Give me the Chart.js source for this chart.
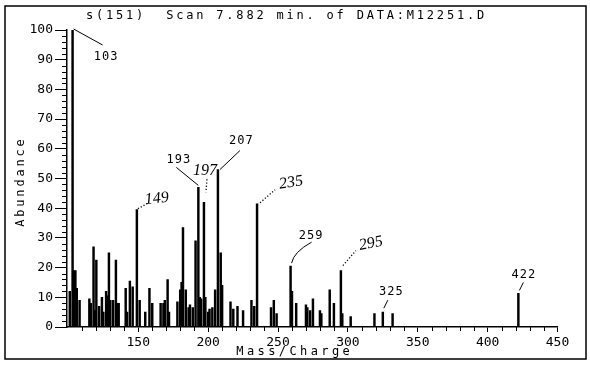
<!DOCTYPE html>
<html>
<head>
<meta charset="utf-8">
<script src="https://cdn.jsdelivr.net/npm/chart.js@4.4.1/dist/chart.umd.min.js"></script>
<style>
  html, body { margin: 0; padding: 0; background: #fff; }
</style>
</head>
<body>
<canvas id="spectrum" width="590" height="366"></canvas>
<script>
// Scan 7.882 min: m/z values and relative abundance (%)
const masses = [
  101, 103, 104, 105, 106, 108, 115, 116, 118, 119, 120, 122, 124, 125, 127, 128, 129, 130, 132,
  134, 135, 136, 141, 142, 144, 146, 149, 151, 155, 158, 160, 166, 168, 169, 171, 172, 178, 180,
  181, 182, 184, 186, 187, 189, 191, 193, 194, 195, 197, 198, 200, 201, 203, 205, 207, 209, 210,
  216, 218, 221, 225, 231, 233, 235, 245, 247, 249, 259, 260, 263, 270, 271, 273, 275, 280, 281,
  287, 290, 295, 296, 302, 319, 325, 332, 422
];
const abundance = [
  12, 100, 19, 19, 13, 9, 9.5, 8, 27, 5.5, 22.5, 7, 10, 5, 12, 10.5, 25, 9, 9,
  22.5, 8, 8, 13, 5, 15.5, 13.5, 39.5, 9, 5, 13, 8, 8, 8, 9, 16, 5, 8.5, 12.5,
  15, 33.5, 12.5, 6.5, 7.5, 6.5, 29, 47, 10, 9.5, 42, 10, 5, 6, 6.5, 12.5, 53, 25, 14,
  8.5, 6, 7, 5.5, 9, 7, 41.5, 6.5, 9, 4.5, 20.5, 12, 8, 7.5, 6.5, 5.5, 9.5, 5.5, 4.5,
  12.5, 8, 19, 4.5, 3.5, 4.5, 5, 4.5, 11.3
];

const xTickValues = [150, 200, 250, 300, 350, 400, 450];
const yTickValues = [0, 10, 20, 30, 40, 50, 60, 70, 80, 90, 100];

const titleText = 's(151)  Scan 7.882 min. of DATA:M12251.D';
const xTitle = 'Mass/Charge';
const yTitle = 'Abundance';

// peaks that carry a mass label (printed or pencilled in)
const printedLabels = ['103', '193', '207', '259', '325', '422'];
const handLabels = ['149', '197', '235', '295'];

// where each label sits relative to the top of its peak, and how the leader is drawn
const labelLayout = {
  '103': { at: [33, 27], lead: 'line', pts: [[1, -1], [30, 15]] },
  '193': { at: [-20, -28], lead: 'line', pts: [[-22, -20], [0, -2]] },
  '207': { at: [23, -29], lead: 'line', pts: [[2, 0], [22, -19]] },
  '259': { at: [20, -30], lead: 'curve', pts: [[1, -3], [3, -14], [21, -24]] },
  '325': { at: [8, -20], lead: 'line', pts: [[1, -4], [5, -12]] },
  '422': { at: [5, -19], lead: 'line', pts: [[1, -3], [5, -11]] },
  '149': { at: [20, -11], lead: 'dots', pts: [[1, -1], [12, -7]], rot: -0.1 },
  '197': { at: [1, -31], lead: 'dots', pts: [[3, -23], [2, -10]], rot: 0 },
  '235': { at: [34, -21], lead: 'dots', pts: [[3, -1], [18, -14]], rot: -0.15 },
  '295': { at: [30, -27], lead: 'dots', pts: [[2, -5], [15, -20]], rot: -0.2 }
};

const plotterFont = '"DejaVu Sans Mono", "Liberation Mono", monospace';

function drawSpaced(ctx, text, x, y, spacing, align) {
  ctx.save();
  ctx.letterSpacing = spacing + 'px';
  let w = ctx.measureText(text).width;
  let sx = align === 'center' ? x - (w - spacing) / 2 : x;
  ctx.textAlign = 'left';
  ctx.fillText(text, sx, y);
  ctx.restore();
}

// frame, title, axis titles, minor ticks and peak annotations
const decorPlugin = {
  id: 'decor',
  beforeDraw(chart) {
    const ctx = chart.ctx;
    ctx.save();
    ctx.fillStyle = '#fff';
    ctx.fillRect(0, 0, chart.width, chart.height);
    ctx.strokeStyle = '#000';
    ctx.lineWidth = 1.5;
    ctx.strokeRect(5, 6, 581, 353);
    ctx.restore();
  },
  afterDraw(chart) {
    const ctx = chart.ctx;
    const xs = chart.scales.x;
    const ys = chart.scales.y;
    const area = chart.chartArea;

    ctx.save();
    ctx.fillStyle = '#000';
    ctx.strokeStyle = '#000';
    ctx.textBaseline = 'middle';

    // title
    ctx.font = '12px ' + plotterFont;
    drawSpaced(ctx, titleText, 86, 16, 2.8, 'left');

    // axis titles
    drawSpaced(ctx, xTitle, 293, 352, 3.4, 'center');
    ctx.save();
    ctx.translate(21, 183);
    ctx.rotate(-Math.PI / 2);
    drawSpaced(ctx, yTitle, 0, 0, 2.8, 'center');
    ctx.restore();

    // minor ticks
    ctx.lineWidth = 1;
    ctx.beginPath();
    for (let v = 2; v < 100; v += 2) {
      if (v % 10 === 0) continue;
      const py = Math.round(ys.getPixelForValue(v)) + 0.5;
      ctx.moveTo(area.left - 5, py);
      ctx.lineTo(area.left, py);
    }
    for (let v = 110; v < 450; v += 10) {
      if (v % 50 === 0) continue;
      const px = Math.round(xs.getPixelForValue(v)) + 0.5;
      ctx.moveTo(px, area.bottom);
      ctx.lineTo(px, area.bottom + 4);
    }
    ctx.stroke();

    // peak labels
    const allLabels = printedLabels.concat(handLabels);
    allLabels.forEach(txt => {
      const m = Number(txt);
      const i = masses.indexOf(m);
      if (i < 0) return;
      const px = xs.getPixelForValue(m);
      const py = ys.getPixelForValue(abundance[i]);
      const lay = labelLayout[txt];
      const p = lay.pts.map(q => [px + q[0], py + q[1]]);

      ctx.lineWidth = 1;
      if (lay.lead === 'line') {
        ctx.beginPath();
        ctx.moveTo(p[0][0], p[0][1]);
        ctx.lineTo(p[1][0], p[1][1]);
        ctx.stroke();
      } else if (lay.lead === 'curve') {
        ctx.beginPath();
        ctx.moveTo(p[0][0], p[0][1]);
        ctx.quadraticCurveTo(p[1][0], p[1][1], p[2][0], p[2][1]);
        ctx.stroke();
      } else {
        ctx.setLineDash([1.2, 2]);
        ctx.lineWidth = 1.3;
        ctx.beginPath();
        ctx.moveTo(p[0][0], p[0][1]);
        ctx.lineTo(p[1][0], p[1][1]);
        ctx.stroke();
        ctx.setLineDash([]);
      }

      const tx = px + lay.at[0];
      const ty = py + lay.at[1];
      if (handLabels.includes(txt)) {
        ctx.save();
        ctx.translate(tx, ty);
        ctx.rotate(lay.rot || 0);
        ctx.font = 'italic 16px "Liberation Serif", serif';
        ctx.textAlign = 'center';
        ctx.fillText(txt, 0, 0);
        ctx.restore();
      } else {
        ctx.font = '12px ' + plotterFont;
        drawSpaced(ctx, txt, tx, ty, 1, 'center');
      }
    });
    ctx.restore();
  }
};

const ctx = document.getElementById('spectrum').getContext('2d');

const spectrumChart = new Chart(ctx, {
  type: 'bar',
  data: {
    datasets: [{
      label: 'Abundance',
      data: masses.map((m, i) => ({ x: m, y: abundance[i] })),
      backgroundColor: '#000',
      borderWidth: 0,
      barThickness: 1.8,
      grouped: false
    }]
  },
  options: {
    responsive: false,
    animation: false,
    layout: {
      padding: { top: 30, right: 32.5, left: 0, bottom: 0 }
    },
    plugins: {
      legend: { display: false },
      tooltip: { enabled: false }
    },
    scales: {
      x: {
        type: 'linear',
        min: 99,
        max: 450,
        offset: false,
        afterBuildTicks: (axis) => {
          axis.ticks = xTickValues.map(v => ({ value: v }));
        },
        afterFit: (axis) => { axis.height = 39; },
        ticks: {
          autoSkip: false,
          maxRotation: 0,
          padding: 3,
          color: '#000',
          font: { family: plotterFont, size: 13 }
        },
        grid: {
          offset: false,
          drawOnChartArea: false,
          drawTicks: true,
          tickLength: 5,
          tickColor: '#000',
          tickWidth: 1
        },
        border: { display: true, color: '#000', width: 1.5 }
      },
      y: {
        min: 0,
        max: 100,
        afterBuildTicks: (axis) => {
          axis.ticks = yTickValues.map(v => ({ value: v }));
        },
        afterFit: (axis) => { axis.width = 67; },
        ticks: {
          autoSkip: false,
          padding: 2,
          color: '#000',
          font: { family: plotterFont, size: 13 }
        },
        grid: {
          drawOnChartArea: false,
          drawTicks: true,
          tickLength: 12,
          tickColor: '#000',
          tickWidth: 1
        },
        border: { display: true, color: '#000', width: 1.5 }
      }
    }
  },
  plugins: [decorPlugin]
});
</script>
</body>
</html>
